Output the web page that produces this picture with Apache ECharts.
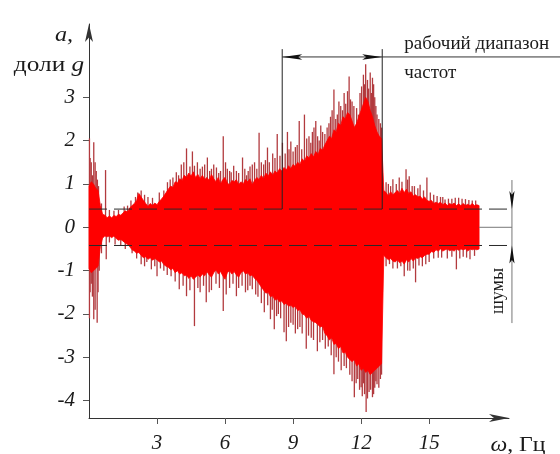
<!DOCTYPE html>
<html><head><meta charset="utf-8">
<script src="https://cdn.jsdelivr.net/npm/echarts@6/dist/echarts.min.js"></script>
<style>html,body{margin:0;padding:0;background:#fff}#c{width:560px;height:454px}</style>
</head><body><div id="c"></div>
<script>
// ---- data ----
const FREQ_STEP = 0.1; // Hz between envelope samples, starting at 0
const coreUpper = [
  0.95,1.05,1.0,0.9,0.85, 0.5,0.3,0.28,0.22,0.26, 0.22,0.27,0.25,0.3,0.28, 0.33,0.38,0.35,0.45,0.5,
  0.55,0.62,0.78,0.7,0.62, 0.55,0.48,0.55,0.5,0.56, 0.52,0.6,0.65,0.72,0.8, 0.88,0.95,0.92,1.05,1.02,
  1.12,1.08,1.2,1.15,1.25, 1.18,1.28,1.15,1.22,1.12, 1.2,1.1,1.15,1.08,1.22, 1.12,1.05,1.15,1.0,1.1,
  1.15,1.02,0.98,1.08,1.05, 1.1,0.98,1.05,1.0,1.1, 1.05,1.12,0.98,1.08,1.15, 1.1,1.2,1.12,1.25,1.18,
  1.28,1.2,1.3,1.25,1.35, 1.3,1.38,1.32,1.42,1.35, 1.45,1.4,1.5,1.45,1.58, 1.52,1.65,1.6,1.7,1.62,
  1.75,1.68,1.82,1.78,1.9, 2.0,2.1,2.05,2.25,2.2, 2.4,2.35,2.55,2.5,2.65, 2.6,2.45,2.3,2.4,2.55,
  2.7,2.85,3.0,2.9,2.7, 2.55,2.35,2.2,2.1,2.05, 0.85,0.8,0.72,0.82,0.75, 0.8,0.85,0.78,0.9,0.8,
  0.88,0.78,0.82,0.72,0.75, 0.7,0.72,0.65,0.7,0.62, 0.6,0.62,0.55,0.58,0.55, 0.58,0.52,0.56,0.5,0.55,
  0.52,0.56,0.5,0.54,0.5, 0.55,0.5,0.53,0.5,0.55, 0.5,0.52,0.5];
const coreLower = [
  -0.95,-1.05,-1.0,-0.95,-0.9, -0.45,-0.25,-0.2,-0.22,-0.2, -0.24,-0.2,-0.26,-0.3,-0.28, -0.32,-0.36,-0.4,-0.45,-0.52,
  -0.55,-0.6,-0.58,-0.65,-0.7, -0.68,-0.74,-0.7,-0.76,-0.72, -0.75,-0.8,-0.78,-0.86,-0.9, -0.92,-0.98,-0.95,-1.05,-1.0,
  -1.08,-1.05,-1.12,-1.1,-1.18, -1.12,-1.2,-1.15,-1.1,-1.15, -1.08,-1.12,-1.02,-1.1,-1.15, -1.05,-0.98,-1.08,-1.02,-1.12,
  -1.2,-1.05,-1.0,-1.08,-1.02, -1.1,-1.15,-1.05,-1.0,-1.08, -1.05,-1.12,-1.1,-1.18,-1.22, -1.3,-1.38,-1.45,-1.52,-1.5,
  -1.6,-1.58,-1.68,-1.65,-1.72, -1.7,-1.78,-1.75,-1.82,-1.8, -1.85,-1.82,-1.92,-1.9,-2.0, -2.02,-2.1,-2.05,-2.15,-2.18,
  -2.2,-2.25,-2.3,-2.28,-2.45, -2.5,-2.6,-2.55,-2.7,-2.68, -2.8,-2.75,-2.9,-2.88,-3.0, -3.05,-3.1,-3.05,-3.2,-3.15,
  -3.3,-3.25,-3.35,-3.3,-3.4, -3.35,-3.3,-3.25,-3.2,-3.15, -0.65,-0.7,-0.75,-0.72,-0.78, -0.8,-0.75,-0.82,-0.78,-0.85,
  -0.75,-0.8,-0.72,-0.78,-0.7, -0.72,-0.68,-0.7,-0.65,-0.62, -0.62,-0.56,-0.58,-0.52,-0.55, -0.5,-0.55,-0.52,-0.5,-0.54,
  -0.52,-0.55,-0.5,-0.53,-0.5, -0.52,-0.5,-0.55,-0.5,-0.52, -0.5,-0.52,-0.5];
const upSpikes = [[0.02,2.05],[0.1,1.5],[0.21,1.96],[0.32,1.3],[0.42,0.95],[0.73,1.32],[1.3,0.4],[1.7,0.5],
  [2.05,0.7],[2.3,0.85],[2.6,0.7],[3.1,0.8],[3.46,1.04],[3.7,1.15],[3.85,1.27],[4.07,1.45],[4.3,1.82],
  [4.45,1.4],[4.56,1.75],[4.78,1.5],[5.0,1.4],[5.22,1.61],[5.4,1.35],[5.62,1.38],[5.8,1.3],[5.92,2.1],
  [6.1,1.35],[6.27,1.27],[6.5,1.3],[6.77,1.61],[6.95,1.2],[7.1,1.4],[7.3,1.5],[7.5,2.18],[7.7,1.45],
  [7.87,1.84],[8.1,1.7],[8.3,2.15],[8.53,1.95],[8.75,2.2],[8.9,1.98],[9.1,1.85],[9.27,2.45],[9.5,2.6],
  [9.7,2.1],[9.85,2.2],[10.0,2.45],[10.15,2.0],[10.3,2.2],[10.5,2.3],[10.65,2.55],[10.8,3.18],[10.95,2.6],
  [11.1,2.8],[11.25,3.1],[11.4,3.14],[11.47,3.48],[11.6,2.9],[11.8,2.75],[11.95,3.1],[12.1,3.52],[12.2,3.76],
  [12.28,3.4],[12.4,3.57],[12.5,3.45],[12.6,3.0],[12.7,2.6],[12.85,2.4],[13.1,1.04],[13.4,1.11],[13.68,1.15],
  [13.98,1.34],[14.12,1.18],[14.35,0.95],[14.6,0.98],[14.9,1.15],[15.2,0.75],[15.5,0.7],[15.7,0.64],
  [16.0,0.66],[16.3,0.68],[16.6,0.65],[16.9,0.62]];
const minorUpSpikes = [[0.05,1.6],[0.15,1.2],[0.27,1.5],[0.37,1.1],[0.55,0.55],[0.9,0.4],[1.1,0.38],[1.55,0.48],
  [1.85,0.62],[2.15,0.8],[2.45,0.75],[2.8,0.68],[3.3,0.85],[3.58,1.1],[3.95,1.2],[4.18,1.5],[4.65,1.42],[4.9,1.35],
  [5.1,1.45],[5.32,1.3],[5.5,1.45],[5.72,1.25],[6.02,1.5],[6.2,1.3],[6.38,1.42],[6.6,1.25],[6.87,1.35],[7.02,1.3],
  [7.2,1.45],[7.4,1.35],[7.6,1.5],[7.78,1.55],[7.95,1.5],[8.2,1.6],[8.42,1.65],[8.65,1.7],[8.82,1.8],[9.0,1.75],
  [9.18,1.9],[9.38,1.8],[9.6,2.05],[9.78,1.95],[9.92,2.3],[10.08,2.1],[10.22,2.35],[10.4,2.15],[10.58,2.4],[10.72,2.7],
  [10.88,2.5],[11.02,2.9],[11.18,2.7],[11.32,2.85],[11.53,2.95],[11.68,2.8],[11.88,2.6],[12.02,3.25],[12.15,3.3],
  [12.33,3.2],[12.45,3.1],[12.55,3.3],[12.65,2.8],[12.78,2.5],[12.9,2.3],[13.2,1.0],[13.3,0.95],[13.55,1.0],[13.8,1.05],
  [14.05,1.1],[14.25,0.95],[14.5,0.9],[14.75,0.85],[15.05,0.8],[15.35,0.72],[15.6,0.7],[15.85,0.66],[16.15,0.68],
  [16.45,0.66],[16.75,0.63],[17.05,0.62]];
const downSpikes = [[0.02,-2.1],[0.1,-1.3],[0.21,-2.12],[0.36,-2.2],[0.45,-1.0],[0.76,-0.74],[1.4,-0.42],[1.9,-0.6],
  [2.3,-0.85],[2.55,-0.8],[2.75,-0.97],[3.0,-1.13],[3.3,-1.0],[3.62,-1.13],[3.98,-1.43],[4.3,-1.59],[4.65,-2.28],
  [4.9,-1.5],[5.17,-1.73],[5.4,-1.45],[5.6,-1.3],[5.92,-1.93],[6.2,-1.4],[6.5,-1.59],[6.75,-1.35],[7.0,-1.45],
  [7.2,-1.43],[7.45,-1.6],[7.73,-1.96],[8.0,-2.12],[8.17,-2.35],[8.35,-2.0],[8.6,-2.42],[8.7,-2.63],[8.9,-2.2],
  [9.1,-2.45],[9.3,-2.3],[9.58,-2.8],[9.8,-2.55],[10.07,-2.86],[10.3,-2.6],[10.55,-2.75],[10.8,-3.39],[11.0,-3.1],
  [11.25,-3.2],[11.5,-3.4],[11.7,-3.92],[11.85,-3.5],[12.0,-3.69],[12.1,-3.6],[12.22,-4.26],[12.35,-3.8],
  [12.5,-3.92],[12.6,-3.7],[12.7,-3.62],[12.85,-3.5],[13.1,-0.9],[13.4,-0.95],[13.9,-1.13],[14.15,-1.0],
  [14.4,-1.27],[14.7,-0.9],[15.0,-0.8],[15.4,-0.7],[15.8,-0.72],[16.2,-0.97],[16.5,-0.68],[16.8,-0.74]];
const minorDownSpikes = [[0.05,-1.5],[0.15,-1.6],[0.27,-1.9],[0.4,-1.5],[0.55,-0.6],[0.9,-0.35],[1.15,-0.4],[1.6,-0.5],
  [2.1,-0.72],[2.45,-0.9],[2.9,-0.9],[3.15,-0.95],[3.45,-1.1],[3.8,-1.25],[4.15,-1.35],[4.45,-1.45],[4.8,-1.4],
  [5.05,-1.35],[5.3,-1.5],[5.75,-1.4],[6.05,-1.55],[6.35,-1.3],[6.6,-1.4],[6.9,-1.5],[7.1,-1.35],[7.35,-1.55],
  [7.6,-1.75],[7.88,-1.8],[8.08,-1.9],[8.27,-2.05],[8.45,-2.1],[8.8,-2.3],[9.0,-2.25],[9.2,-2.35],[9.4,-2.45],
  [9.68,-2.5],[9.9,-2.6],[10.18,-2.65],[10.42,-2.8],[10.68,-2.95],[10.9,-3.0],[11.12,-3.3],[11.35,-3.25],[11.6,-3.55],
  [11.78,-3.6],[11.93,-3.75],[12.05,-3.9],[12.15,-3.85],[12.28,-3.95],[12.42,-3.75],[12.55,-3.85],[12.65,-3.55],
  [12.78,-3.7],[12.9,-3.4],[13.25,-0.85],[13.6,-0.95],[13.75,-0.9],[14.05,-1.0],[14.3,-0.95],[14.55,-0.88],
  [14.85,-0.85],[15.2,-0.72],[15.55,-0.7],[16.0,-0.68],[16.35,-0.72],[16.65,-0.7],[17.0,-0.66]];
const xTicks = [3, 6, 9, 12, 15];
const yTicks = [-4, -3, -2, -1, 0, 1, 2, 3];
const noiseLevel = 0.42;      // dashed noise band ±
const bandStart = 8.52, bandEnd = 12.93; // working frequency range, Hz
const bandTop = 4.11, bandArrowY = 3.93;
const noiseMarkX = 18.65;

// ---- build ----
const freqAt = i => +(i * FREQ_STEP).toFixed(2);
const signalEnd = freqAt(coreUpper.length - 1);
const spikes = upSpikes.concat(minorUpSpikes, downSpikes, minorDownSpikes);

const FONT = '"Liberation Serif","Times New Roman",serif';
const chart = echarts.init(document.getElementById('c'), null, {renderer: 'canvas'});

chart.setOption({
  animation: false,
  backgroundColor: '#fff',
  grid: {left: 89, right: 51, top: 24, bottom: 36, containLabel: false},
  xAxis: {
    type: 'value', min: 0, max: 18.52,
    axisLine: {show: true, onZero: false, symbol: ['none', 'arrow'], symbolSize: [6, 20],
      lineStyle: {color: '#333', width: 1}},
    axisTick: {show: true, customValues: xTicks, length: 6, lineStyle: {color: '#555'}},
    axisLabel: {customValues: xTicks, fontFamily: FONT, fontStyle: 'italic', fontSize: 21, color: '#1a1a1a', margin: 15},
    splitLine: {show: false}
  },
  yAxis: {
    type: 'value', min: -4.4, max: 4.69,
    axisLine: {show: true, onZero: false, symbol: ['none', 'arrow'], symbolSize: [6, 18],
      lineStyle: {color: '#333', width: 1}},
    axisTick: {show: true, customValues: yTicks, length: 6, lineStyle: {color: '#555'}},
    axisLabel: {customValues: yTicks, fontFamily: FONT, fontStyle: 'italic', fontSize: 21, color: '#1a1a1a', margin: 14},
    splitLine: {show: false}
  },
  series: [
    {
      type: 'custom', name: 'spikes', z: 2, clip: false,
      data: spikes,
      encode: {x: 0, y: 1},
      renderItem: function (params, api) {
        const p0 = api.coord([api.value(0), 0]);
        const p1 = api.coord([api.value(0), api.value(1)]);
        return {type: 'line', shape: {x1: p0[0], y1: p0[1], x2: p1[0], y2: p1[1]},
          style: {stroke: '#b23a3e', lineWidth: 1.3}};
      }
    },
    {
      type: 'custom', name: 'core', z: 3, clip: false,
      data: [[0, 0]],
      encode: {x: 0, y: 1},
      renderItem: function (params, api) {
        const pts = [];
        coreUpper.forEach((v, i) => pts.push(api.coord([freqAt(i), v])));
        for (let i = coreLower.length - 1; i >= 0; i--) pts.push(api.coord([freqAt(i), coreLower[i]]));
        return {type: 'polygon', shape: {points: pts},
          style: {fill: '#ff0000', stroke: '#ff0000', lineWidth: 0.8}};
      }
    }
  ]
});

function px(x, y) { return chart.convertToPixel({gridIndex: 0}, [x, y]); }
function arrowHead(tip, dir, len, hw, z) {
  const bx = tip[0] - dir[0] * len, by = tip[1] - dir[1] * len;
  const nx = -dir[1] * hw, ny = dir[0] * hw;
  return {type: 'polygon', z: z || 20, silent: true,
    shape: {points: [tip, [bx + nx, by + ny], [tip[0] - dir[0] * len * 0.8, tip[1] - dir[1] * len * 0.8], [bx - nx, by - ny]]},
    style: {fill: '#111'}};
}
function line(a, b, color, dash, z) {
  return {type: 'line', z: z || 20, silent: true,
    shape: {x1: a[0], y1: a[1], x2: b[0], y2: b[1]},
    style: {stroke: color, lineWidth: 1, lineDash: dash || null}};
}
function text(t, x, y, opts) {
  opts = opts || {};
  return {type: 'text', z: 30, silent: true, x: x, y: y, rotation: opts.rotation || 0,
    scaleX: opts.scaleX || 1,
    style: Object.assign({text: t, x: 0, y: 0, fill: '#1a1a1a',
      font: (opts.italic ? 'italic ' : '') + (opts.size || 18) + 'px ' + FONT,
      align: opts.align || 'left', textAlign: opts.align || 'left',
      verticalAlign: 'middle', textVerticalAlign: 'middle'}, opts.extra || {})};
}

const g = [];
// noise band dashed lines
const nU0 = px(0, noiseLevel), nU1 = px(noiseMarkX, noiseLevel);
const nL0 = px(0, -noiseLevel), nL1 = px(noiseMarkX, -noiseLevel);
g.push(line(nU0, nU1, '#2a2a2a', [18, 7]));
g.push(line(nL0, nL1, '#2a2a2a', [18, 7]));
g.push(line(px(signalEnd, 0), px(noiseMarkX, 0), '#777'));
// noise marker vertical line with arrows
const vTop = px(noiseMarkX, 1.09), vBot = px(noiseMarkX, -2.21);
g.push(line(vTop, vBot, '#777'));
g.push(arrowHead(nU1, [0, 1], 18, 2.6));
g.push(arrowHead(nL1, [0, -1], 18, 2.6));
const shumy = px(18.03, -1.47);
g.push(text('шумы', shumy[0], shumy[1], {size: 18, align: 'center', rotation: Math.PI / 2}));
// working frequency band bracket
const bs0 = px(bandStart, noiseLevel), bs1 = px(bandStart, bandTop);
const be0 = px(bandEnd, noiseLevel), be1 = px(bandEnd, bandTop);
g.push(line(bs0, bs1, '#222'));
g.push(line(be0, be1, '#222'));
const aL = px(bandStart, bandArrowY), aR = px(bandEnd, bandArrowY);
g.push(line(aL, [560, aL[1]], '#333'));
g.push(arrowHead(aL, [-1, 0], 20, 2.8));
g.push(arrowHead(aR, [1, 0], 20, 2.8));
g.push(text('рабочий диапазон', aR[0] + 22, aL[1] - 13, {size: 19}));
g.push(text('частот', aR[0] + 22, aL[1] + 16, {size: 19}));
// axis names
g.push(text('a,', 64, 35, {size: 22, italic: true, align: 'center', scaleX: 1.1}));
g.push({type: 'text', z: 30, silent: true, x: 49, y: 65, scaleX: 1.15,
  style: {text: 'доли {i|g}', x: 0, y: 0, fill: '#1a1a1a', font: '22px ' + FONT,
    align: 'center', textAlign: 'center', verticalAlign: 'middle', textVerticalAlign: 'middle',
    rich: {i: {fontStyle: 'italic', fontSize: 22, fontFamily: FONT, fill: '#1a1a1a'}}}});
g.push({type: 'text', z: 30, silent: true, x: 518, y: 445, scaleX: 1.08,
  style: {text: '{i|ω}, Гц', x: 0, y: 0, fill: '#1a1a1a', font: '22px ' + FONT,
    align: 'center', textAlign: 'center', verticalAlign: 'middle', textVerticalAlign: 'middle',
    rich: {i: {fontStyle: 'italic', fontSize: 22, fontFamily: FONT, fill: '#1a1a1a'}}}});

chart.setOption({graphic: g});
</script>
</body></html>
